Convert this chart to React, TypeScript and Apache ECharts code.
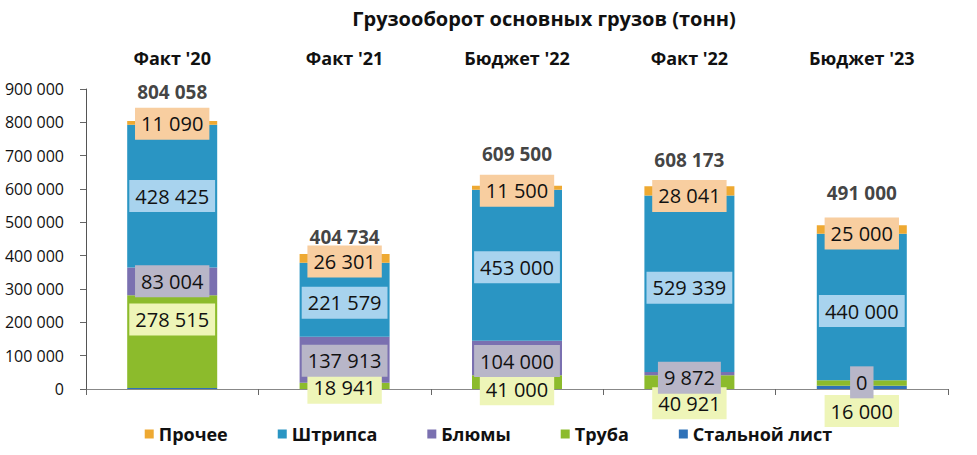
import React, { useEffect, useRef } from "react";
import * as echarts from "echarts";

const categories = ["Факт '20", "Факт '21", "Бюджет '22", "Факт '22", "Бюджет '23"];
const steelSheet = [3024, 0, 0, 0, 10000];
const pipe = [278515, 18941, 41000, 40921, 16000];
const blooms = [83004, 137913, 104000, 9872, 0];
const strip = [428425, 221579, 453000, 529339, 440000];
const other = [11090, 26301, 11500, 28041, 25000];
const yTicks = [0, 100000, 200000, 300000, 400000, 500000, 600000, 700000, 800000, 900000];

// label nudges (pixels), layout only
const pipeDy = [-22, 2, 7, 21, 28];
const bloomsDy = [0, 1, 3, 4, 2];
const stripDy = [0, 3, 2, 4, 4];
const otherDy = [1, 3, 3, 5, 4];
const totalDy = [-29, -17, -32, -26, -32];

const FONT = "'Open Sans', 'Noto Sans', sans-serif";
const fmt = (v: number) => String(Math.round(v)).replace(/\B(?=(\d{3})+(?!\d))/g, " ");

export default function App() {
  const ref = useRef<HTMLDivElement>(null);
  useEffect(() => {
    if (!ref.current) return;
    const chart = echarts.init(ref.current, null, { renderer: "svg" });
    const totals = categories.map(
      (_, i) => steelSheet[i] + pipe[i] + blooms[i] + strip[i] + other[i]
    );
    const seg = (
      name: string,
      data: number[],
      color: string,
      bg: string | null,
      dy: number[] | null
    ) => ({
      name,
      type: "bar",
      stack: "total",
      barWidth: 90,
      xAxisIndex: 0,
      itemStyle: { color },
      label: {
        show: !!bg,
        position: "inside",
        formatter: (p: any) => fmt(p.value),
        color: "#111",
        fontFamily: FONT,
        fontSize: 20,
        lineHeight: 24,
        backgroundColor: bg || "transparent",
        padding: [4, 6],
      },
      data: data.map((v, i) => ({
        value: v,
        label: dy ? { offset: [0, dy[i]] } : undefined,
      })),
    });
    chart.setOption({
      animation: false,
      title: {
        text: "Грузооборот основных грузов (тонн)",
        left: 539,
        top: 3,
        textAlign: "center",
        textStyle: { fontFamily: FONT, fontSize: 20, fontWeight: "bold", color: "#111" },
      },
      legend: {
        data: ["Прочее", "Штрипса", "Блюмы", "Труба", "Стальной лист"],
        bottom: 7,
        left: "center",
        itemWidth: 9,
        itemHeight: 9,
        itemGap: 50,
        icon: "rect",
        textStyle: { fontFamily: FONT, fontSize: 18, fontWeight: "bold", color: "#111" },
      },
      grid: { left: 86, right: 29, top: 89, bottom: 66 },
      xAxis: [
        {
          type: "category",
          data: categories,
          position: "bottom",
          axisLine: { lineStyle: { color: "#888", width: 1 } },
          axisTick: { show: true, length: 6, lineStyle: { color: "#666" } },
          axisLabel: { show: false },
        },
        {
          type: "category",
          data: categories,
          position: "top",
          axisLine: { show: false },
          axisTick: { show: false },
          axisLabel: {
            margin: 22,
            fontFamily: FONT,
            fontSize: 18,
            fontWeight: "bold",
            color: "#111",
          },
        },
      ],
      yAxis: {
        type: "value",
        min: yTicks[0],
        max: yTicks[yTicks.length - 1],
        interval: yTicks[1] - yTicks[0],
        axisLine: { show: true, lineStyle: { color: "#555" } },
        axisTick: { show: true, length: 6, lineStyle: { color: "#666" } },
        splitLine: { show: false },
        axisLabel: {
          margin: 22,
          fontFamily: FONT,
          fontSize: 16,
          color: "#111",
          formatter: (v: number) => fmt(v),
        },
      },
      series: [
        seg("Стальной лист", steelSheet, "#2f72b8", null, null),
        seg("Труба", pipe, "#8cbb2c", "#eef5b8", pipeDy),
        seg("Блюмы", blooms, "#7a70b0", "#b8b6c8", bloomsDy),
        seg("Штрипса", strip, "#2a95c3", "#a8d3ee", stripDy),
        seg("Прочее", other, "#eea932", "#f8cea0", otherDy),
        {
          name: "Итого",
          type: "scatter",
          xAxisIndex: 0,
          symbolSize: 1,
          itemStyle: { color: "rgba(0,0,0,0)" },
          label: {
            show: true,
            position: "inside",
            formatter: (p: any) => fmt(p.value[1]),
            fontFamily: FONT,
            fontSize: 19,
            fontWeight: "bold",
            color: "#111",
          },
          data: totals.map((t, i) => ({
            value: [i, t],
            label: { offset: [0, totalDy[i]] },
          })),
          z: 10,
        },
      ],
    });
    return () => chart.dispose();
  }, []);
  return (
    <div
      ref={ref}
      style={{ position: "absolute", left: 0, top: 0, width: 977, height: 455 }}
    />
  );
}
